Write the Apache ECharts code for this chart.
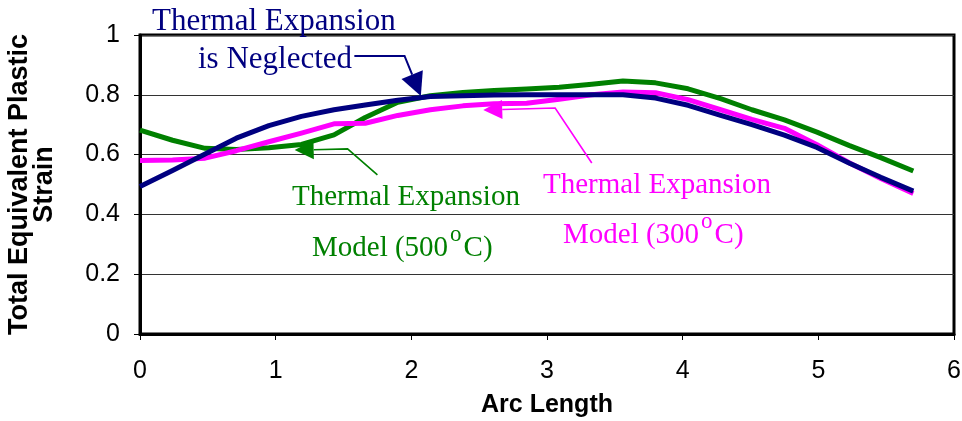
<!DOCTYPE html>
<html>
<head>
<meta charset="utf-8">
<script src="https://cdn.jsdelivr.net/npm/echarts@6/dist/echarts.min.js"></script>
<style>
  html, body { margin: 0; padding: 0; background: #fff; }
  #chart { width: 962px; height: 421px; }
</style>
</head>
<body>
<div id="chart"></div>
<script>
// Arc length stations along the profile
const arcLength = [0, 0.24, 0.48, 0.71, 0.95, 1.19, 1.43, 1.66, 1.90, 2.14, 2.38, 2.61, 2.85,
                   3.09, 3.33, 3.56, 3.80, 4.04, 4.28, 4.51, 4.75, 4.99, 5.23, 5.46, 5.70];

// Total equivalent plastic strain, thermal expansion neglected
const strainNeglected = [0.493, 0.547, 0.602, 0.655, 0.697, 0.728, 0.750, 0.766, 0.782, 0.794, 0.797, 0.799, 0.800,
                         0.800, 0.800, 0.800, 0.789, 0.765, 0.731, 0.700, 0.665, 0.624, 0.571, 0.524, 0.478];

// Thermal expansion model, 500 °C
const strain500 = [0.682, 0.648, 0.621, 0.617, 0.623, 0.634, 0.666, 0.724, 0.775, 0.797, 0.808, 0.814, 0.819,
                   0.825, 0.835, 0.846, 0.840, 0.820, 0.787, 0.750, 0.716, 0.675, 0.630, 0.590, 0.545];

// Thermal expansion model, 300 °C
const strain300 = [0.580, 0.582, 0.588, 0.613, 0.643, 0.672, 0.703, 0.705, 0.731, 0.750, 0.763, 0.770, 0.772,
                   0.785, 0.800, 0.809, 0.807, 0.784, 0.750, 0.718, 0.688, 0.633, 0.572, 0.520, 0.470];

const xTicks = { min: 0, max: 6, interval: 1 };
const yTicks = { min: 0, max: 1, interval: 0.2 };

const NAVY = '#000080';
const GREEN = '#008000';
const MAGENTA = '#ff00ff';

const pairs = (xs, ys) => xs.map((x, i) => [x, ys[i]]);

const chart = echarts.init(document.getElementById('chart'), null, { renderer: 'canvas' });

const axisFont = { fontFamily: '"Liberation Sans", Arial, sans-serif', color: '#000' };

chart.setOption({
  animation: false,
  backgroundColor: '#fff',
  grid: {
    left: 140, right: 8, top: 35, bottom: 87,
    outerBoundsMode: 'none',
    show: true, borderColor: '#000', borderWidth: 3, backgroundColor: 'transparent'
  },
  xAxis: {
    type: 'value',
    min: xTicks.min, max: xTicks.max, interval: xTicks.interval,
    name: 'Arc Length',
    nameLocation: 'middle',
    nameGap: 59,
    nameTextStyle: Object.assign({ fontSize: 25, fontWeight: 'bold', verticalAlign: 'top' }, axisFont),
    axisLine: { show: true, onZero: false, lineStyle: { color: '#000', width: 3 } },
    axisTick: { show: true, inside: false, length: 6, lineStyle: { color: '#000', width: 1 } },
    axisLabel: Object.assign({ fontSize: 25, margin: 25 }, axisFont),
    splitLine: { show: false }
  },
  yAxis: {
    type: 'value',
    min: yTicks.min, max: yTicks.max, interval: yTicks.interval,
    name: 'Total Equivalent Plastic\nStrain',
    nameLocation: 'middle',
    nameRotate: 90,
    nameGap: 83,
    nameTextStyle: Object.assign({ fontSize: 27, fontWeight: 'bold', lineHeight: 25, align: 'center' }, axisFont),
    axisLine: { show: true, lineStyle: { color: '#000', width: 3 } },
    axisTick: { show: true, inside: false, length: 6, lineStyle: { color: '#000', width: 1 } },
    axisLabel: Object.assign({ fontSize: 25, margin: 20 }, axisFont),
    splitLine: { show: true, lineStyle: { color: '#333', width: 1.2 } }
  },
  series: [
    {
      name: 'Thermal Expansion Model (500°C)', type: 'line', data: pairs(arcLength, strain500),
      showSymbol: false, lineStyle: { color: GREEN, width: 5, join: 'round' }, z: 3
    },
    {
      name: 'Thermal Expansion Model (300°C)', type: 'line', data: pairs(arcLength, strain300),
      showSymbol: false, lineStyle: { color: MAGENTA, width: 5, join: 'round' }, z: 4
    },
    {
      name: 'Thermal Expansion is Neglected', type: 'line', data: pairs(arcLength, strainNeglected),
      showSymbol: false, lineStyle: { color: NAVY, width: 5, join: 'round' }, z: 5
    }
  ]
});

// Callout annotations: leader path given in data units, arrow at the first point
const callouts = [
  { color: NAVY,    path: [[2.07, 0.796], [1.95, 0.93], [1.58, 0.93]], head: 23, width: 2 },
  { color: GREEN,   path: [[1.14, 0.615], [1.53, 0.619], [1.75, 0.532]], head: 19, width: 1.6 },
  { color: MAGENTA, path: [[2.53, 0.749], [3.06, 0.756], [3.33, 0.572]], head: 19, width: 1.6 }
];

const serif = '"Liberation Serif", "Times New Roman", serif';
// Callout text: [before superscript, superscript, after superscript]
const labels = [
  { color: NAVY,    size: 31, x: 152, y: 22, parts: ['Thermal Expansion'] },
  { color: NAVY,    size: 31, x: 198, y: 60, parts: ['is Neglected'] },
  { color: GREEN,   size: 29, x: 292, y: 197, parts: ['Thermal Expansion'] },
  { color: GREEN,   size: 29, x: 312, y: 248, parts: ['Model (500', 'o', 'C)'] },
  { color: MAGENTA, size: 29, x: 543, y: 185, parts: ['Thermal Expansion'] },
  { color: MAGENTA, size: 29, x: 563, y: 235, parts: ['Model (300', 'o', 'C)'] }
];

const measureCtx = document.createElement('canvas').getContext('2d');
const textWidth = (str, size) => {
  measureCtx.font = size + 'px ' + serif;
  return measureCtx.measureText(str).width;
};

const toPx = p => chart.convertToPixel({ gridIndex: 0 }, p);

const elements = [];
callouts.forEach(c => {
  const pts = c.path.map(toPx);
  const tip = pts[0];
  const next = pts[1];
  const dx = next[0] - tip[0], dy = next[1] - tip[1];
  const len = Math.hypot(dx, dy);
  const ux = dx / len, uy = dy / len;
  const L = c.head, W = c.head * 0.5;
  const base = [tip[0] + ux * L, tip[1] + uy * L];
  elements.push({
    type: 'polyline', silent: true, z: 20,
    shape: { points: [base].concat(pts.slice(1)) },
    style: { stroke: c.color, lineWidth: c.width, fill: null }
  });
  elements.push({
    type: 'polygon', silent: true, z: 20,
    shape: { points: [tip, [base[0] - uy * W, base[1] + ux * W], [base[0] + uy * W, base[1] - ux * W]] },
    style: { fill: c.color }
  });
});

const textEl = (str, x, y, size, color) => ({
  type: 'text', silent: true, z: 21, x: x, y: y,
  style: { text: str, fill: color, font: size + 'px ' + serif, align: 'left', verticalAlign: 'middle' }
});

labels.forEach(l => {
  let x = l.x;
  const [before, sup, after] = l.parts;
  elements.push(textEl(before, x, l.y, l.size, l.color));
  if (sup) {
    x += textWidth(before, l.size) + 2;
    const supSize = Math.round(l.size * 0.8);
    elements.push(textEl(sup, x, l.y - 13, supSize, l.color));
    x += textWidth(sup, supSize) + 2;
    elements.push(textEl(after, x, l.y, l.size, l.color));
  }
});

chart.setOption({ graphic: { elements: elements } });
</script>
</body>
</html>
